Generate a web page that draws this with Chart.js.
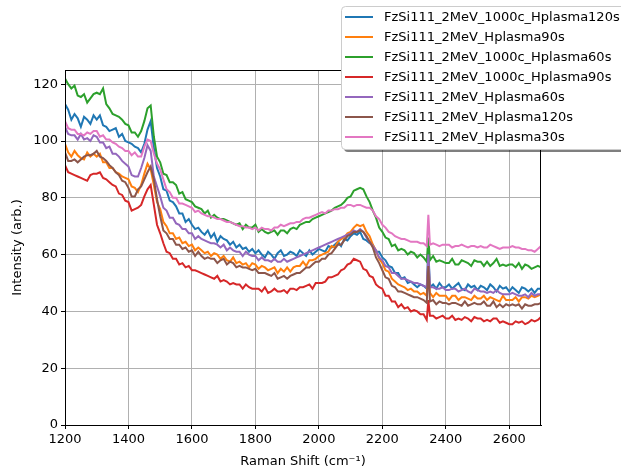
<!DOCTYPE html>
<html>
<head>
<meta charset="utf-8">
<title>Raman spectra</title>
<script src="https://cdn.jsdelivr.net/npm/chart.js@4.4.1/dist/chart.umd.min.js"></script>
<style>
    html, body { margin: 0; padding: 0; background: #fff; }
    #ramanChart { display: block; }
</style>
</head>
<body>
<canvas id="ramanChart" width="621" height="471"></canvas>
<script>
// Raman shift positions: every 10 cm-1, plus the narrow peak at 2345
const ramanShift = [];
for (let x = 1200; x <= 2700; x += 10) {
    ramanShift.push(x);
    if (x === 2340) ramanShift.push(2345);
}

const xTicks = [1200, 1400, 1600, 1800, 2000, 2200, 2400, 2600];
const yTicks = [0, 20, 40, 60, 80, 100, 120];

const seriesNames = [
    'FzSi111_2MeV_1000c_Hplasma120s',
    'FzSi111_2MeV_Hplasma90s',
    'FzSi111_2MeV_1000c_Hplasma60s',
    'FzSi111_2MeV_1000c_Hplasma90s',
    'FzSi111_2MeV_Hplasma60s',
    'FzSi111_2MeV_Hplasma120s',
    'FzSi111_2MeV_Hplasma30s'
];
const seriesColors = ['#1f77b4', '#ff7f0e', '#2ca02c', '#d62728', '#9467bd', '#8c564b', '#e377c2'];

// Intensidades (uma linha por 100 cm-1; a linha de 2300 tem o pico de 2345)
const blue1000c120s = [
    113, 111, 107.5, 109.5, 108, 105, 108.5, 107.5, 106, 109,
    107.5, 109, 105.5, 105, 103.5, 104, 104.5, 101.5, 102.5, 100,
    99.5, 99, 98, 97.5, 96, 99, 104, 107, 97.5, 90.5,
    87.5, 83, 82.5, 79, 78.5, 77, 74.5, 74.5, 71.5, 72.5,
    70.5, 69, 69.5, 68, 67, 68.5, 66, 67.5, 64.5, 66.5,
    65.5, 65, 63.5, 64.5, 62.5, 63.5, 62, 62.5, 61, 62,
    60.5, 61.5, 60, 59, 61, 60, 58.5, 60.5, 61.5, 59.5,
    60, 61, 60.5, 59.5, 61.5, 60.5, 59.5, 61.5, 60, 61,
    62, 61.5, 61, 63, 62.5, 63.5, 64.5, 63, 65.5, 65,
    66.5, 67.5, 67, 68, 65.5, 65, 64, 63.5, 61, 61,
    59, 58, 56, 55.5, 53.5, 53.5, 51.5, 52, 50, 50.5,
    49.5, 48.5, 49.5, 49, 48, 62, 48.5, 49.5, 48, 50, 48.5,
    48.5, 49.5, 48, 49, 50, 48, 47.5, 49.5, 48.5, 49,
    47.5, 49, 48.5, 47.5, 49.5, 48.5, 47, 49, 48, 48.5,
    47, 48.5, 47.5, 46.5, 48.5, 48, 47, 48, 46.5, 48,
    48
];
const orange90s = [
    99, 96, 94.5, 96.5, 95, 94, 93.5, 96, 94.5, 95.5,
    94.5, 95.5, 92.5, 92.5, 90.5, 90.5, 89, 88.5, 87.5, 87,
    86.5, 84, 83.5, 82, 84.5, 88.5, 92, 90, 84.5, 78.5,
    76, 71.5, 70, 67.5, 67.5, 65.5, 66, 64, 64.5, 63,
    63.5, 61.5, 62.5, 61.5, 60.5, 61, 59.5, 60.5, 60, 58.5,
    59.5, 58, 57.5, 59, 57, 57.5, 56.5, 57, 55.5, 57,
    56.5, 55, 56, 55.5, 54.5, 55, 55.5, 53.5, 55, 54,
    55.5, 54, 55.5, 56, 56, 57.5, 56, 58, 58, 58.5,
    59.5, 60, 60.5, 61, 63, 62.5, 64.5, 65.5, 66, 67.5,
    68, 69.5, 70.5, 70, 70.5, 68, 66.5, 63.5, 61.5, 58.5,
    57, 54.5, 54, 51.5, 50.5, 49.5, 49, 48.5, 47.5, 48,
    47, 47, 46, 46.5, 45.5, 58, 46.5, 45, 46.5, 45.5, 45.5,
    45.5, 44, 45.5, 45.5, 44, 45, 45, 44.5, 44, 45.5,
    44.5, 44.5, 45.5, 44, 45, 44.5, 44, 43.5, 45.5, 44,
    44, 44, 45, 43.5, 45, 45, 44.5, 45.5, 45, 45.5,
    46
];
const green1000c60s = [
    122, 120, 118.5, 119.5, 116, 115.5, 116.5, 113.5, 115, 116.5,
    117, 116.5, 118.5, 113, 111.5, 109.5, 109, 108.5, 107.5, 106,
    105.5, 103, 103, 101.5, 103.5, 107, 111.5, 112.5, 101.5, 94.5,
    92.5, 88.5, 88, 85.5, 85.5, 84.5, 81.5, 82, 79.5, 79,
    78.5, 77, 76.5, 76, 74.5, 75.5, 73, 74, 73, 72.5,
    72.5, 72, 71.5, 71, 70.5, 71, 69, 70.5, 69.5, 69.5,
    70.5, 68, 69, 68, 67.5, 68, 68.5, 67, 68.5, 68.5,
    67.5, 69, 69.5, 69, 70.5, 71, 71.5, 71.5, 72.5, 73,
    73.5, 74, 74.5, 75, 75.5, 76.5, 77, 77.5, 78.5, 80,
    80.5, 82.5, 83, 83.5, 83, 80.5, 78.5, 75.5, 73, 69.5,
    68, 66, 65.5, 63, 63.5, 61.5, 62, 61.5, 60, 61,
    60.5, 59, 60, 59, 57.5, 66, 58, 59.5, 57.5, 58, 57.5,
    57, 57, 58.5, 56.5, 56.5, 58, 57.5, 57, 56, 58,
    57.5, 57.5, 56, 57.5, 56, 57, 58.5, 56, 56.5, 56,
    56.5, 56.5, 55.5, 57, 55, 56.5, 56, 55, 55.5, 56,
    55.5
];
const red1000c90s = [
    91.5, 89, 88.5, 88, 87.5, 87, 86.5, 86, 88, 88.5,
    88.5, 89, 87, 86.5, 85.5, 84.5, 84, 81.5, 81, 79,
    78.5, 75.5, 76, 76.5, 77.5, 80.5, 83, 84.5, 77.5, 70.5,
    67.5, 64, 61, 60.5, 58.5, 58.5, 56.5, 57, 55.5, 56,
    54.5, 54.5, 54, 53.5, 53, 52.5, 52, 51.5, 52.5, 50.5,
    51, 50.5, 49.5, 50, 49.5, 49.5, 48, 49.5, 48.5, 48,
    48, 48, 47, 48.5, 46.5, 47, 48, 47, 47, 47.5,
    46.5, 48, 48, 47.5, 48.5, 48.5, 49, 49.5, 48, 50,
    50, 50, 50.5, 52, 52, 52.5, 53, 54.5, 55, 56.5,
    57, 58.5, 58, 57.5, 55, 54.5, 52.5, 52, 49.5, 48.5,
    48, 45.5, 45.5, 43.5, 43.5, 41.5, 42.5, 41, 41.5, 40,
    40.5, 40, 39, 39, 37, 44, 38.5, 38.5, 37.5, 38, 38.5,
    37.5, 37.5, 38.5, 37, 37.5, 37, 38, 37.5, 36.5, 38,
    37.5, 37.5, 36.5, 37, 36.5, 37.5, 37.5, 36, 36.5, 36,
    35.5, 35.5, 36.5, 36, 36.5, 35.5, 36, 37, 36.5, 37,
    38
];
const purple60s = [
    105, 102.5, 102, 102, 100.5, 102.5, 100.5, 101, 100, 102,
    101.5, 99.5, 99.5, 97.5, 98, 95.5, 95.5, 94.5, 93, 92,
    91, 88, 87.5, 87.5, 90.5, 94, 98.5, 96.5, 87.5, 84,
    80.5, 76.5, 75.5, 73, 73, 71, 70.5, 69, 69, 67.5,
    67.5, 65.5, 66.5, 65.5, 65, 64.5, 64, 64, 63.5, 62.5,
    63.5, 61.5, 62.5, 61.5, 61, 61, 59.5, 61, 60, 59.5,
    59.5, 58, 59, 58, 58, 57.5, 58.5, 57.5, 57.5, 58.5,
    57.5, 58, 58.5, 59, 59.5, 60, 60.5, 61, 61.5, 62,
    62.5, 63, 63.5, 64, 64.5, 65, 65.5, 66, 66.5, 67,
    67.5, 68.5, 68, 69, 68, 66, 64.5, 63, 61.5, 59,
    58, 56, 55.5, 53.5, 53.5, 52.5, 51.5, 51.5, 51, 50.5,
    50, 50, 49.5, 49, 48.5, 60, 48.5, 48.5, 48, 48, 48.5,
    47.5, 47.5, 48, 48, 47, 47.5, 48, 47, 46.5, 48,
    47.5, 47, 47, 46.5, 47, 46.5, 47.5, 46.5, 46, 46,
    46, 46.5, 46, 45.5, 45.5, 46, 45, 46.5, 45.5, 46,
    46
];
const brown120s = [
    96, 93, 93, 93.5, 92.5, 93.5, 94.5, 95, 95, 95.5,
    96.5, 94.5, 94, 93, 91.5, 90.5, 89, 88, 86, 85.5,
    83.5, 80.5, 80.5, 83, 84, 86.5, 89, 91, 86.5, 79.5,
    73.5, 68.5, 67.5, 65.5, 65.5, 63.5, 63.5, 62, 62.5, 61,
    61.5, 59.5, 61, 59.5, 58.5, 59, 58.5, 58.5, 57, 58,
    58.5, 56.5, 57.5, 57, 55.5, 56, 55.5, 55.5, 55, 54.5,
    55, 53.5, 53.5, 53.5, 53, 52.5, 53.5, 51.5, 52, 52.5,
    51.5, 52.5, 53, 53.5, 53.5, 54.5, 55.5, 55.5, 56.5, 57.5,
    57.5, 58.5, 58.5, 60, 60.5, 62, 63.5, 63.5, 65, 66.5,
    67, 68, 68, 68.5, 68, 66.5, 64.5, 62.5, 59, 57,
    54.5, 52, 51.5, 49, 48.5, 47, 47, 46.5, 46, 45.5,
    45, 45, 44.5, 44, 43, 56, 43.5, 44, 42.5, 43.5, 43,
    43, 42.5, 43, 43, 42.5, 42, 43.5, 42, 42.5, 43,
    42.5, 42.5, 43.5, 42, 42, 43.5, 41.5, 42.5, 41.5, 42.5,
    42, 42.5, 42, 42.5, 41, 42.5, 42, 42, 42.5, 42.5,
    43
];
const pink30s = [
    107, 104.5, 104, 104, 102.5, 102.5, 102, 103, 102.5, 103.5,
    103.5, 101.5, 102, 100.5, 100.5, 99.5, 99, 98, 97.5, 96.5,
    96.5, 95, 96, 94.5, 94.5, 98, 100.5, 100, 95.5, 92,
    90, 86.5, 83, 82, 80, 80, 78, 78, 77.5, 77,
    76.5, 75, 75.5, 74.5, 74, 73.5, 73.5, 73, 72.5, 72.5,
    72, 71.5, 71.5, 71, 70.5, 70, 70, 69.5, 69.5, 69,
    69.5, 68.5, 69.5, 69, 69, 68.5, 69.5, 69.5, 70.5, 70,
    70.5, 71, 71, 71.5, 71.5, 72.5, 73, 73, 73.5, 74,
    74.5, 75, 74.5, 75.5, 75.5, 76, 76, 76.5, 76.5, 77.5,
    77.5, 77, 77.5, 77.5, 77, 76.5, 76.5, 75.5, 73.5, 72.5,
    70.5, 69.5, 68, 67.5, 66.5, 66, 65.5, 65.5, 65, 64.5,
    64.5, 64.5, 64, 64, 63, 74, 63.5, 64, 63.5, 63, 63.5,
    63.5, 63.5, 62.5, 63, 63, 63.5, 63, 62.5, 63, 63,
    62.5, 63, 62.5, 62.5, 63.5, 63, 62.5, 62, 62.5, 62.5,
    62.5, 63, 62.5, 62.5, 62, 62, 61.5, 61.5, 61, 62,
    63
];

const seriesValues = [blue1000c120s, orange90s, green1000c60s, red1000c90s, purple60s, brown120s, pink30s];

const FONT = 'DejaVu Sans';

// Moldura do gráfico (eixos superior e direito) e legenda com sombra
const framePlugin = {
    id: 'frame',
    afterDraw(chart) {
        const { ctx, chartArea } = chart;
        ctx.save();
        ctx.strokeStyle = '#000';
        ctx.lineWidth = 1;
        ctx.strokeRect(chartArea.left + 0.5, chartArea.top + 0.5,
            chartArea.right - chartArea.left - 1, chartArea.bottom - chartArea.top);

        // Legenda
        const boxX = 341, boxY = 6, boxW = 300, boxH = 143;
        ctx.fillStyle = 'rgba(0,0,0,0.5)';
        roundRect(ctx, boxX + 3, boxY + 3, boxW, boxH, 4);
        ctx.fill();
        ctx.fillStyle = '#fff';
        ctx.strokeStyle = '#cccccc';
        roundRect(ctx, boxX + 0.5, boxY + 0.5, boxW, boxH, 4);
        ctx.fill();
        ctx.stroke();

        ctx.font = '13px "' + FONT + '"';
        ctx.textBaseline = 'middle';
        ctx.textAlign = 'left';
        seriesNames.forEach((name, i) => {
            const y = 17 + i * 20;
            ctx.strokeStyle = seriesColors[i];
            ctx.lineWidth = 2;
            ctx.beginPath();
            ctx.moveTo(345, y);
            ctx.lineTo(373, y);
            ctx.stroke();
            ctx.fillStyle = '#000';
            ctx.fillText(name, 384, y + 1);
        });
        ctx.restore();
    }
};

function roundRect(ctx, x, y, w, h, r) {
    ctx.beginPath();
    ctx.moveTo(x + r, y);
    ctx.lineTo(x + w - r, y);
    ctx.arcTo(x + w, y, x + w, y + r, r);
    ctx.lineTo(x + w, y + h - r);
    ctx.arcTo(x + w, y + h, x + w - r, y + h, r);
    ctx.lineTo(x + r, y + h);
    ctx.arcTo(x, y + h, x, y + h - r, r);
    ctx.lineTo(x, y + r);
    ctx.arcTo(x, y, x + r, y, r);
    ctx.closePath();
}

function initializeRamanChart() {
    const canvas = document.getElementById('ramanChart');
    if (!canvas) {
        console.error('Canvas not found.');
        return;
    }

    Chart.defaults.color = '#000';
    Chart.defaults.font.family = FONT;
    Chart.defaults.font.size = 13;

    const datasets = seriesValues.map((values, i) => ({
        label: seriesNames[i],
        data: values.map((v, j) => ({ x: ramanShift[j], y: v })),
        borderColor: seriesColors[i],
        backgroundColor: seriesColors[i],
        borderWidth: 2,
        pointRadius: 0,
        fill: false,
        tension: 0,
        order: seriesValues.length - 1 - i // último desenhado por cima, como no matplotlib
    }));

    new Chart(canvas.getContext('2d'), {
        type: 'line',
        data: { datasets },
        options: {
            responsive: false,
            animation: false,
            devicePixelRatio: 1,
            layout: { padding: { left: 0, top: 70, right: 80, bottom: 0 } },
            plugins: {
                legend: { display: false },
                tooltip: { enabled: false }
            },
            scales: {
                x: {
                    type: 'linear',
                    min: 1200,
                    max: 2700,
                    afterFit: (scale) => { scale.height = 46; },
                    afterBuildTicks: (scale) => { scale.ticks = xTicks.map(v => ({ value: v })); },
                    ticks: {
                        padding: 3,
                        includeBounds: false,
                        maxRotation: 0,
                        autoSkip: false,
                        callback: (value) => String(value)
                    },
                    grid: { color: '#b0b0b0', lineWidth: 1, tickColor: '#000', tickLength: 4 },
                    border: { color: '#000', width: 1 },
                    title: {
                        display: true,
                        text: 'Raman Shift (cm⁻¹)',
                        font: { size: 13 },
                        padding: { top: 0, bottom: 2 }
                    }
                },
                y: {
                    min: 0,
                    max: 125,
                    afterFit: (scale) => { scale.width = 65; },
                    afterBuildTicks: (scale) => { scale.ticks = yTicks.map(v => ({ value: v })); },
                    ticks: { padding: 3, includeBounds: false, callback: (value) => String(value) },
                    grid: { color: '#b0b0b0', lineWidth: 1, tickColor: '#000', tickLength: 4 },
                    border: { color: '#000', width: 1 },
                    title: {
                        display: true,
                        text: 'Intensity (arb.)',
                        font: { size: 13 },
                        padding: { top: 10, bottom: 0 }
                    }
                }
            }
        },
        plugins: [framePlugin]
    });
}

document.addEventListener('DOMContentLoaded', initializeRamanChart);
</script>
</body>
</html>
